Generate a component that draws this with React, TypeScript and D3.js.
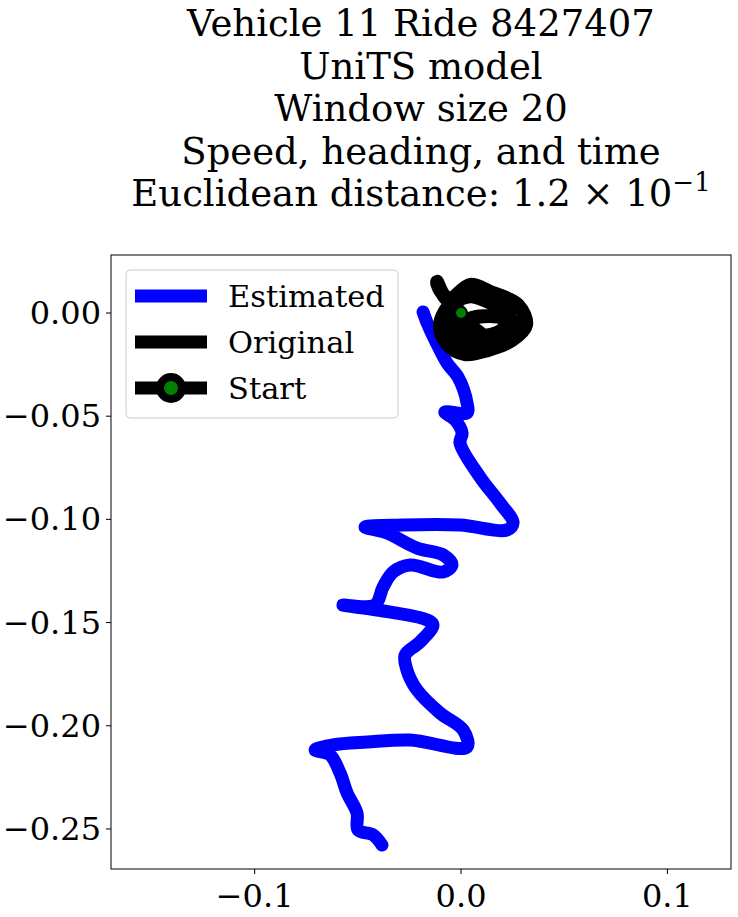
import React from "react";
import * as d3 from "d3";

const estX = [-0.0184,-0.016,-0.0126,-0.0068,-0.0015,0.0029,0.0029,-0.0078,-0.0029,0.0005,-0.0005,0.0092,0.0189,0.0252,0.0223,-0.0005,-0.0281,-0.0465,-0.0359,-0.0213,-0.0087,-0.0044,-0.0087,-0.0247,-0.0329,-0.0378,-0.0417,-0.0572,-0.0407,-0.0165,-0.0136,-0.0199,-0.0271,-0.0262,-0.0213,-0.0102,0.001,0.0029,-0.0247,-0.0455,-0.062,-0.0707,-0.0635,-0.0586,-0.0552,-0.0504,-0.0499,-0.0426,-0.0383];
const estY = [0.0005,-0.0058,-0.0131,-0.0242,-0.031,-0.0436,-0.0484,-0.048,-0.0518,-0.0581,-0.063,-0.0795,-0.0921,-0.1017,-0.1051,-0.1027,-0.1027,-0.1037,-0.1066,-0.1139,-0.1172,-0.1221,-0.1255,-0.1221,-0.1255,-0.1328,-0.1415,-0.1415,-0.1439,-0.1487,-0.1512,-0.1594,-0.1657,-0.173,-0.1827,-0.1938,-0.202,-0.2103,-0.2069,-0.2079,-0.2093,-0.2117,-0.2141,-0.2229,-0.2326,-0.2423,-0.2505,-0.2529,-0.2578];
const origX = [0,-0.0102,-0.0116,-0.0063,0.0044,0.0141,0.0276,0.0315,0.0247,0.0131,0.0019,-0.0068,-0.0102,-0.0044,0.0082,0.0228,0.0199,0.0053,-0.0024,0.0053,0.0213,0.0295,0.0189,0.0068,-0.004,-0.008,0.002,0.012,0.022,0.026,0.015,0.004,-0.006,0];
const origY = [0,0.0111,0.015,0.0063,0.0136,0.0102,0.0039,-0.0058,-0.0131,-0.0179,-0.0199,-0.015,-0.0058,0.0048,0.0082,0.0015,-0.0082,-0.0111,-0.0073,-0.0024,-0.0024,-0.0082,-0.0155,-0.017,-0.012,-0.003,0.008,0.006,0.0,-0.01,-0.013,-0.006,-0.002,0];
const xTicks = [-0.1, 0.0, 0.1];
const xTickLabels = ["−0.1", "0.0", "0.1"];
const yTicks = [0, -0.05, -0.1, -0.15, -0.2, -0.25];
const yTickLabels = ["0.00", "−0.05", "−0.10", "−0.15", "−0.20", "−0.25"];
const titleLines = ["Vehicle 11 Ride 8427407", "UniTS model", "Window size 20", "Speed, heading, and time"];
const legendLabels = ["Estimated", "Original", "Start"];

const L = 111, R = 731, T = 255, B = 869;
const x = d3.scaleLinear().domain([-0.1696, 0.1308]).range([L, R]);
const y = d3.scaleLinear().domain([-0.2694, 0.0281]).range([B, T]);
const font = "DejaVu Serif";

export default function App() {
  const line = d3.line<[number, number]>().x(d => x(d[0])).y(d => y(d[1])).curve(d3.curveCatmullRom);
  const est = line(estX.map((v, i) => [v, estY[i]]))!;
  const orig = line(origX.map((v, i) => [v, origY[i]]))!;
  return (
    <div style={{ position: "absolute", left: 0, top: 0 }}>
      <svg width={738} height={917} style={{ display: "block", background: "#fff" }} fontFamily={font}>
        <g textAnchor="middle" fontSize={37} fill="#000">
          {titleLines.map((t, i) => <text key={i} x={421} y={36 + i * 42.5}>{t}</text>)}
          <text x={421} y={206}>Euclidean distance: 1.2 × 10<tspan dy={-15} fontSize={26}>−1</tspan></text>
        </g>
        <defs><clipPath id="c"><rect x={L} y={T} width={R - L} height={B - T} /></clipPath></defs>
        <g clipPath="url(#c)">
          <path d={est} fill="none" stroke="#0000ff" strokeWidth={13} strokeLinejoin="round" strokeLinecap="round" />
          <path d={orig} fill="none" stroke="#000" strokeWidth={14} strokeLinejoin="round" strokeLinecap="round" />
          <circle cx={x(0)} cy={y(0)} r={5} fill="green" />
        </g>
        <rect x={L} y={T} width={R - L} height={B - T} fill="none" stroke="#000" strokeWidth={1} />
        {xTicks.map((t, i) => (
          <g key={i}>
            <line x1={x(t)} x2={x(t)} y1={B} y2={B + 5} stroke="#000" />
            <text x={x(t)} y={B + 38} textAnchor="middle" fontSize={32}>{xTickLabels[i]}</text>
          </g>
        ))}
        {yTicks.map((t, i) => (
          <g key={i}>
            <line x1={L - 5} x2={L} y1={y(t)} y2={y(t)} stroke="#000" />
            <text x={L - 10} y={y(t) + 11} textAnchor="end" fontSize={32}>{yTickLabels[i]}</text>
          </g>
        ))}
        <rect x={126} y={270} width={272} height={148} rx={4} fill="#fff" fillOpacity={0.8} stroke="#ccc" />
        {legendLabels.map((lab, i) => {
          const ly = 296 + i * 46;
          return (
            <g key={i}>
              <line x1={135} x2={207} y1={ly} y2={ly} stroke={i === 0 ? "#0000ff" : "#000"} strokeWidth={13} />
              {i === 2 && <circle cx={171} cy={ly} r={11} fill="green" stroke="#000" strokeWidth={8} />}
              <text x={228} y={ly + 11} fontSize={30.5}>{lab}</text>
            </g>
          );
        })}
      </svg>
    </div>
  );
}
